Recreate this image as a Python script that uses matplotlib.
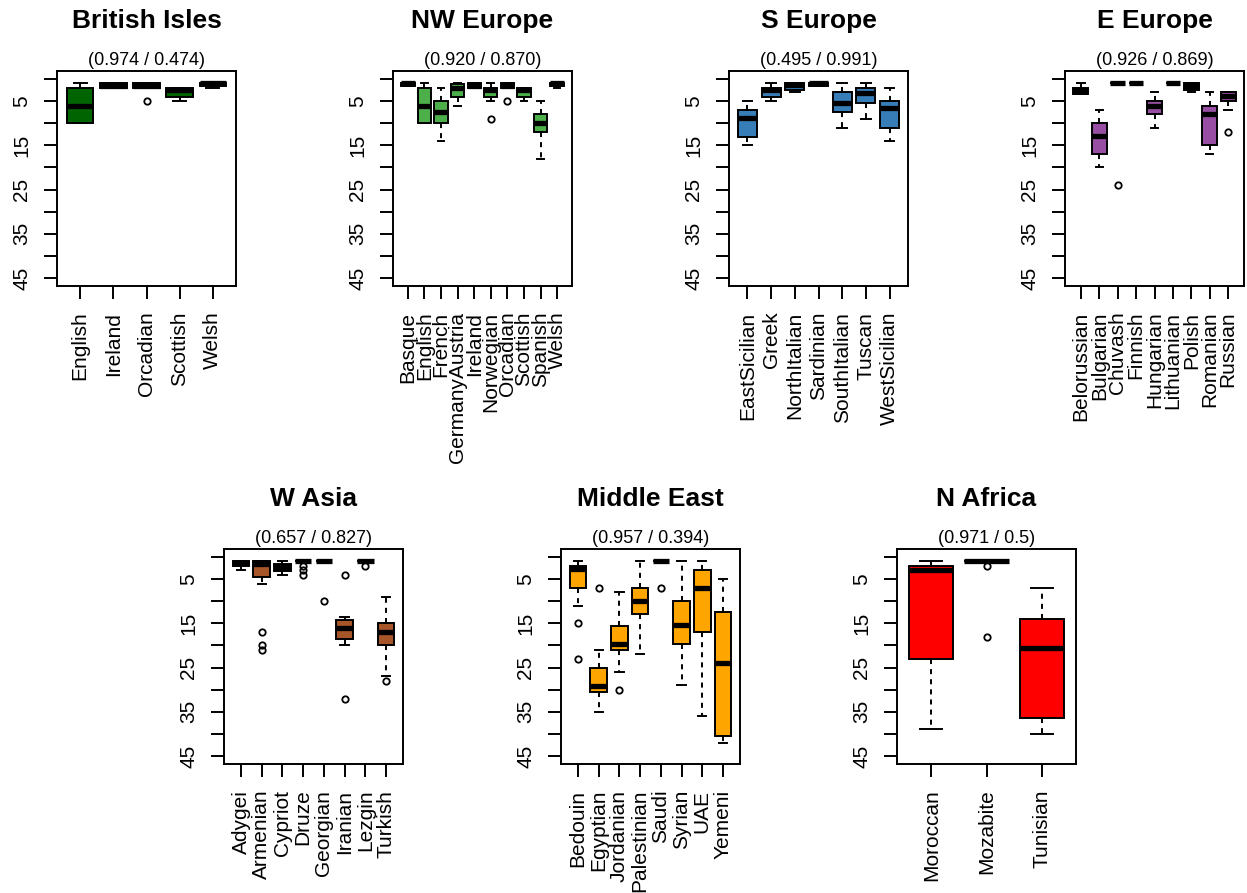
import matplotlib
matplotlib.use("Agg")
import matplotlib.pyplot as plt

plt.rcParams["font.family"] = ["Liberation Sans", "DejaVu Sans"]

# five-number summaries per population: (low whisker, Q1, median, Q3, high whisker)
british_isles_groups = ["English", "Ireland", "Orcadian", "Scottish", "Welsh"]
british_isles_stats = [(1, 2, 6, 10, 10), (1, 1, 1.5, 2, 2), (1, 1, 1.5, 2, 2),
                       (2, 2, 2.5, 4, 5), (1, 1, 1, 1.5, 2)]
british_isles_out = [[], [], [5], [], []]

nw_europe_groups = ["Basque", "English", "French", "GermanyAustria", "Ireland",
                    "Norwegian", "Orcadian", "Scottish", "Spanish", "Welsh"]
nw_europe_stats = [(1, 1, 1, 1.5, 1.5), (1, 2, 6, 10, 10), (2, 5, 7.5, 10, 14),
                   (1, 1.2, 2, 4, 6), (1, 1, 1.5, 2, 2), (1, 2, 2.4, 4, 5),
                   (1, 1, 1.5, 2, 2), (2, 2, 2.5, 4, 5), (5, 8, 10, 12, 18),
                   (1, 1, 1, 1.5, 2)]
nw_europe_out = [[], [], [], [], [], [9], [5], [], [], []]

s_europe_groups = ["EastSicilian", "Greek", "NorthItalian", "Sardinian",
                   "SouthItalian", "Tuscan", "WestSicilian"]
s_europe_stats = [(5, 7, 8.8, 13.2, 15), (1, 2, 2.5, 4, 5), (1, 1, 1.3, 2.5, 3),
                  (1, 1, 1, 1.5, 1.5), (1, 3, 5.5, 7.5, 11), (1, 2, 3.2, 5.5, 9),
                  (2, 5, 6.5, 11, 14)]
s_europe_out = [[], [], [], [], [], [], []]

e_europe_groups = ["Belorussian", "Bulgarian", "Chuvash", "Finnish", "Hungarian",
                   "Lithuanian", "Polish", "Romanian", "Russian"]
e_europe_stats = [(1, 2, 2.6, 3.3, 3.3), (7, 10, 13, 17, 20), (1, 1, 1, 1, 1),
                  (1, 1, 1, 1, 1), (3, 5, 6, 8, 11), (1, 1, 1, 1, 1),
                  (1, 1, 1.7, 2.5, 3), (3, 6, 8, 15, 17), (3, 3, 3.8, 5, 7)]
e_europe_out = [[], [], [24], [], [], [], [], [], [12]]

w_asia_groups = ["Adygei", "Armenian", "Cypriot", "Druze", "Georgian",
                 "Iranian", "Lezgin", "Turkish"]
w_asia_stats = [(1, 1, 1.3, 2, 3), (1, 1, 1.7, 4.5, 6), (1, 1.5, 2.3, 3.2, 4),
                (1, 1, 1, 1, 1), (1, 1, 1, 1, 1), (13.6, 14.3, 16, 18.5, 20),
                (1, 1, 1, 1, 1), (9, 15, 17, 20, 27)]
w_asia_out = [[], [17, 20, 21], [], [2, 3, 4], [10], [4, 32], [2], [28]]

middle_east_groups = ["Bedouin", "Egyptian", "Jordanian", "Palestinian", "Saudi",
                      "Syrian", "UAE", "Yemeni"]
middle_east_stats = [(1, 2, 2.8, 7, 11), (21, 25, 29.2, 30.5, 35),
                     (8, 15.5, 19.6, 21, 26), (1, 7, 10, 13, 22), (1, 1, 1, 1, 1),
                     (1, 10, 15.4, 19.6, 29), (1, 3, 7, 17, 36),
                     (5, 12.4, 24, 40.5, 42)]
middle_east_out = [[15, 23], [7], [30], [], [7], [], [], []]

n_africa_groups = ["Moroccan", "Mozabite", "Tunisian"]
n_africa_stats = [(1, 2, 2.9, 23, 39), (1, 1, 1, 1, 1), (7, 14, 20.5, 36.5, 40)]
n_africa_out = [[], [2, 18], []]

region_names = ["British Isles", "NW Europe", "S Europe", "E Europe",
                "W Asia", "Middle East", "N Africa"]
score_left = ["0.974", "0.920", "0.495", "0.926", "0.657", "0.957", "0.971"]
score_right = ["0.474", "0.870", "0.991", "0.869", "0.827", "0.394", "0.5"]
region_colors = ["#006400", "#4DAF4A", "#377EB8", "#984EA3",
                 "#A65628", "#FFA500", "#FF0000"]

panels = [
    (british_isles_groups, british_isles_stats, british_isles_out),
    (nw_europe_groups, nw_europe_stats, nw_europe_out),
    (s_europe_groups, s_europe_stats, s_europe_out),
    (e_europe_groups, e_europe_stats, e_europe_out),
    (w_asia_groups, w_asia_stats, w_asia_out),
    (middle_east_groups, middle_east_stats, middle_east_out),
    (n_africa_groups, n_africa_stats, n_africa_out),
]

W, H = 1247, 893
# panel boxes in pixels: left, top, width, height
boxes_px = [(57, 71), (393, 71), (729, 71), (1065, 71),
            (224, 549), (561, 549), (897, 549)]
PW, PH = 179, 215

fig = plt.figure(figsize=(W / 100, H / 100), dpi=100)
LW = 1.4

for i, (groups, stats, outs) in enumerate(panels):
    left, top = boxes_px[i]
    ax = fig.add_axes([left / W, 1 - (top + PH) / H, PW / W, PH / H])
    n = len(groups)
    pos = list(range(1, n + 1))
    bstats = [dict(whislo=s[0], q1=s[1], med=s[2], q3=s[3], whishi=s[4], fliers=o)
              for s, o in zip(stats, outs)]
    ax.bxp(bstats, positions=pos, widths=0.8, patch_artist=True,
           manage_ticks=False, capwidths=0.4,
           boxprops=dict(facecolor=region_colors[i], edgecolor="black", linewidth=LW),
           medianprops=dict(color="black", linewidth=3.8, solid_capstyle="butt"),
           whiskerprops=dict(color="black", linewidth=LW, linestyle=(0, (2.6, 2.6))),
           capprops=dict(color="black", linewidth=LW),
           flierprops=dict(marker="o", markerfacecolor="none", markeredgecolor="black",
                           markersize=4.6, markeredgewidth=1.3))
    pad = 0.04 * n
    ax.set_xlim(0.5 - pad, n + 0.5 + pad)
    ax.set_ylim(46.8, -1.8)
    ax.set_xticks(pos, groups, rotation=90, fontsize=15)
    yt = list(range(0, 50, 5))
    ax.set_yticks(yt, [str(v) if v % 10 == 5 else "" for v in yt], fontsize=15)
    for lab in ax.get_yticklabels():
        lab.set_rotation(90)
        lab.set_va("center")
    ax.tick_params(axis="both", length=9.5, width=LW, direction="out")
    ax.tick_params(axis="x", pad=9)
    ax.tick_params(axis="y", pad=9)
    for sp in ax.spines.values():
        sp.set_linewidth(LW)
    ax.set_title(region_names[i], fontsize=19, fontweight="bold", pad=31)
    ax.annotate(f"({score_left[i]} / {score_right[i]})", xy=(0.5, 1),
                xycoords="axes fraction", xytext=(0, 4.5), textcoords="offset points",
                ha="center", va="baseline", fontsize=13)

fig.savefig("out.png", dpi=100)
